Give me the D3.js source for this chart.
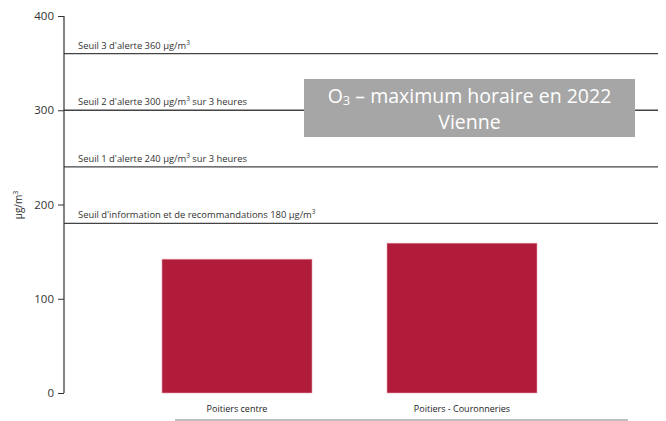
<!DOCTYPE html>
<html><head><meta charset="utf-8">
<script src="https://cdn.jsdelivr.net/npm/d3@7"></script>
<style>body{margin:0;background:#fff}svg{display:block}text{font-family:"Open Sans","Noto Sans",sans-serif}</style>
</head><body>
<svg id="c" width="666" height="421"></svg>
<script>
const categories = ["Poitiers centre", "Poitiers - Couronneries"];
const values = [142, 159];
const thresholdValues = [360, 300, 240, 180];
const thresholdLabels = [
  ["Seuil 3 d'alerte 360 µg/m", ""],
  ["Seuil 2 d'alerte 300 µg/m", " sur 3 heures"],
  ["Seuil 1 d'alerte 240 µg/m", " sur 3 heures"],
  ["Seuil d'information et de recommandations 180 µg/m", ""]
];
const yTicks = [0, 100, 200, 300, 400];
const titleMain = "O";
const titleSub = "3";
const titleRest = " – maximum horaire en 2022";
const titleLine2 = "Vienne";

const svg = d3.select("#c");
const y = d3.scaleLinear().domain([0, 400]).range([393, 16]);
const x = d3.scaleBand().domain(categories).range([87, 612]).paddingInner(1/3).paddingOuter(1/3);

// threshold lines
svg.append("g").selectAll("line").data(thresholdValues).join("line")
  .attr("x1", 64).attr("x2", 658)
  .attr("y1", d => y(d)).attr("y2", d => y(d))
  .attr("stroke", "#444").attr("stroke-width", 1.3);

const tl = svg.append("g").selectAll("text").data(thresholdValues).join("text")
  .attr("x", 78).attr("y", d => y(d) - 5)
  .attr("font-size", 9.4).attr("fill", "#333");
tl.each(function(d, i) {
  const t = d3.select(this);
  t.append("tspan").text(thresholdLabels[i][0]);
  t.append("tspan").attr("dy", -4).attr("font-size", 6.5).text("3");
  t.append("tspan").attr("dy", 4).text(thresholdLabels[i][1]);
});

// bars
svg.append("g").selectAll("rect").data(values).join("rect")
  .attr("x", (d, i) => x(categories[i]))
  .attr("width", x.bandwidth())
  .attr("y", d => y(d))
  .attr("height", d => y(0) - y(d))
  .attr("fill", "#b01c3a")
  .attr("stroke", "#e8a0ae").attr("stroke-width", 0.6);

// x labels
svg.append("g").selectAll("text").data(categories).join("text")
  .attr("x", d => x(d) + x.bandwidth() / 2).attr("y", 412)
  .attr("text-anchor", "middle").attr("font-size", 9).attr("fill", "#222")
  .text(d => d);

// bottom grey line
svg.append("line").attr("x1", 175).attr("x2", 628).attr("y1", 420).attr("y2", 420)
  .attr("stroke", "#aaa").attr("stroke-width", 1.5);

// y axis
const ax = svg.append("g").attr("transform", "translate(64,0)")
  .call(d3.axisLeft(y).tickValues(yTicks).tickSize(6).tickPadding(4));
ax.select(".domain").attr("stroke", "#333").attr("stroke-width", 1.2).attr("d", "M0," + y(0) + "V" + y(400));
ax.selectAll(".tick line").attr("stroke", "#333");
ax.selectAll(".tick text").attr("font-size", 11.5).attr("fill", "#333").attr("font-family", "\"Open Sans\",sans-serif");

// y label
const yl = svg.append("text").attr("transform", "translate(22,205) rotate(-90)")
  .attr("text-anchor", "middle").attr("font-size", 10).attr("fill", "#333");
yl.append("tspan").text("µg/m");
yl.append("tspan").attr("dy", -4).attr("font-size", 7).text("3");

// title box
svg.append("rect").attr("x", 304).attr("y", 79).attr("width", 331).attr("height", 58).attr("fill", "#a6a6a6");
const t1 = svg.append("text").attr("x", 469.5).attr("y", 103)
  .attr("text-anchor", "middle").attr("font-size", 19.5).attr("fill", "#fff");
t1.append("tspan").text(titleMain);
t1.append("tspan").attr("font-size", 13).attr("dy", 2).text(titleSub);
t1.append("tspan").attr("dy", -2).text(titleRest);
svg.append("text").attr("x", 469.5).attr("y", 129)
  .attr("text-anchor", "middle").attr("font-size", 19.5).attr("fill", "#fff")
  .text(titleLine2);
</script>
</body></html>
